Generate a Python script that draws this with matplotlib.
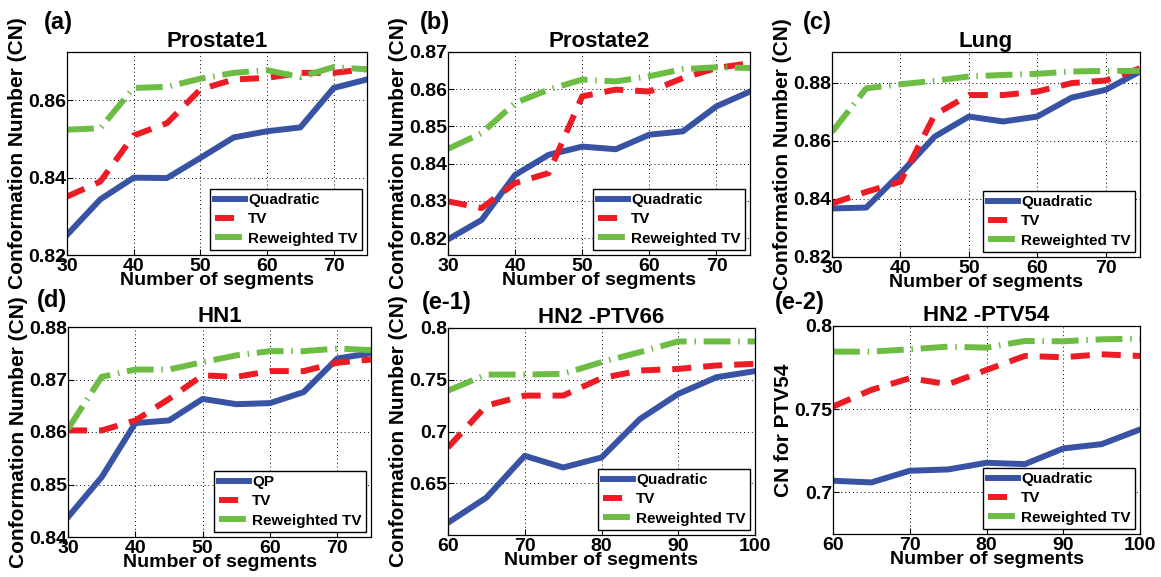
import matplotlib
matplotlib.use("Agg")
import matplotlib.pyplot as plt
from matplotlib.ticker import FuncFormatter

plt.rcParams['font.family'] = ['Liberation Sans', 'DejaVu Sans']
plt.rcParams['font.weight'] = 'bold'
plt.rcParams['axes.labelweight'] = 'bold'
plt.rcParams['axes.titleweight'] = 'bold'

# data
seg_a = [30, 35, 40, 45, 50, 55, 60, 65, 70, 75]
seg_e = [60, 65, 70, 75, 80, 85, 90, 95, 100]

pro1_quad = [0.8252, 0.8344, 0.8400, 0.8399, 0.8451, 0.8504, 0.8520, 0.8530, 0.8632, 0.8654]
pro1_tv = [0.8351, 0.8390, 0.8509, 0.8541, 0.8628, 0.8654, 0.8658, 0.8671, 0.8671, 0.8681]
pro1_rtv = [0.8524, 0.8528, 0.8632, 0.8635, 0.8656, 0.8671, 0.8678, 0.8660, 0.8686, 0.8680]

pro2_quad = [0.8197, 0.8249, 0.8370, 0.8424, 0.8446, 0.8439, 0.8478, 0.8487, 0.8554, 0.8594]
pro2_tv = [0.8299, 0.8281, 0.8348, 0.8375, 0.8581, 0.8599, 0.8594, 0.8630, 0.8657, 0.8670]
pro2_rtv = [0.8440, 0.8482, 0.8563, 0.8599, 0.8626, 0.8621, 0.8635, 0.8654, 0.8659, 0.8657]

lung_quad = [0.8367, 0.8370, 0.8487, 0.8614, 0.8683, 0.8666, 0.8683, 0.8748, 0.8775, 0.8838]
lung_tv = [0.8384, 0.8424, 0.8459, 0.8689, 0.8757, 0.8757, 0.8769, 0.8798, 0.8807, 0.8849]
lung_rtv = [0.8630, 0.8780, 0.8794, 0.8806, 0.8821, 0.8826, 0.8830, 0.8838, 0.8840, 0.8840]

hn1_quad = [0.8438, 0.8514, 0.8617, 0.8622, 0.8663, 0.8653, 0.8655, 0.8676, 0.8740, 0.8750]
hn1_tv = [0.8603, 0.8603, 0.8622, 0.8663, 0.8708, 0.8705, 0.8716, 0.8716, 0.8732, 0.8738]
hn1_rtv = [0.8606, 0.8705, 0.8719, 0.8719, 0.8733, 0.8746, 0.8754, 0.8754, 0.8759, 0.8756]

p66_quad = [0.6119, 0.6361, 0.6765, 0.6652, 0.6749, 0.7120, 0.7363, 0.7525, 0.7583]
p66_tv = [0.6846, 0.7250, 0.7347, 0.7347, 0.7515, 0.7589, 0.7605, 0.7638, 0.7654]
p66_rtv = [0.7395, 0.7550, 0.7550, 0.7557, 0.7670, 0.7767, 0.7870, 0.7870, 0.7870]

p54_quad = [0.7070, 0.7060, 0.7130, 0.7138, 0.7178, 0.7170, 0.7264, 0.7290, 0.7378]
p54_tv = [0.7516, 0.7616, 0.7686, 0.7650, 0.7736, 0.7820, 0.7812, 0.7830, 0.7820]
p54_rtv = [0.7846, 0.7846, 0.7860, 0.7876, 0.7870, 0.7910, 0.7908, 0.7920, 0.7924]

W, H = 1161, 577
fig = plt.figure(figsize=(W / 100, H / 100), dpi=100)

def box(l, r, t, b):
    return [l / W, 1 - b / H, (r - l) / W, (b - t) / H]

panels = [
    ("(a)", (44, 22), "Prostate1", box(67, 367, 52, 255), seg_a, pro1_quad, pro1_tv, pro1_rtv,
     (30, 75), range(30, 71, 10), (0.82, 0.8725), [0.82, 0.84, 0.86],
     "Conformation Number (CN)", "Quadratic"),
    ("(b)", (420, 22), "Prostate2", box(448, 750, 52, 255), seg_a, pro2_quad, pro2_tv, pro2_rtv,
     (30, 75), range(30, 71, 10), (0.8155, 0.87), [0.82, 0.83, 0.84, 0.85, 0.86, 0.87],
     "Conformation Number (CN)", "Quadratic"),
    ("(c)", (803, 22), "Lung", box(832, 1140, 52, 257), seg_a, lung_quad, lung_tv, lung_rtv,
     (30, 75), range(30, 71, 10), (0.82, 0.8905), [0.82, 0.84, 0.86, 0.88],
     "Conformation Number (CN)", "Quadratic"),
    ("(d)", (37, 300), "HN1", box(68, 371, 327, 537), seg_a, hn1_quad, hn1_tv, hn1_rtv,
     (30, 75), range(30, 71, 10), (0.84, 0.88), [0.84, 0.85, 0.86, 0.87, 0.88],
     "Conformation Number (CN)", "QP"),
    ("(e-1)", (422, 302), "HN2 -PTV66", box(448, 755, 328, 535), seg_e, p66_quad, p66_tv, p66_rtv,
     (60, 100), range(60, 101, 10), (0.6, 0.8), [0.65, 0.7, 0.75, 0.8],
     "Conformation Number (CN)", "Quadratic"),
    ("(e-2)", (775, 303), "HN2 -PTV54", box(833, 1140, 326, 534), seg_e, p54_quad, p54_tv, p54_rtv,
     (60, 100), range(60, 101, 10), (0.675, 0.8), [0.7, 0.75, 0.8],
     "CN for PTV54", "Quadratic"),
]

fmt = FuncFormatter(lambda v, p: ("%g" % round(v, 4)))

for tag, tagpos, title, pos, x, q, tv, rtv, xl, xt, yl, yt, ylab, qname in panels:
    ax = fig.add_axes(pos)
    ax.plot(x, q, color="#3953a4", lw=4.3, solid_joinstyle="round", label=qname)
    ax.plot(x, tv, color="#ed1c24", lw=4.3, linestyle=(0, (3.2, 2.0)), label="TV")
    ax.plot(x, rtv, color="#6dbd45", lw=4.3, linestyle=(0, (4.5, 1.3, 0.25, 1.3)),
            label="Reweighted TV")
    ax.set_xlim(*xl)
    ax.set_ylim(*yl)
    ax.set_xticks(list(xt))
    ax.set_yticks(yt)
    ax.yaxis.set_major_formatter(fmt)
    ax.tick_params(direction="in", labelsize=14, length=4, width=0.8)
    ax.tick_params(axis="y", pad=0.5)
    ax.tick_params(axis="x", pad=2)
    for lab in ax.get_xticklabels() + ax.get_yticklabels():
        lab.set_fontweight("bold")
    ax.grid(True, color="black", linestyle=(0, (1, 3)), linewidth=0.7)
    for s in ax.spines.values():
        s.set_linewidth(0.9)
    ax.set_title(title, fontsize=16, fontweight="bold", pad=2)
    ax.set_xlabel("Number of segments", fontsize=14, labelpad=-2)
    ax.set_ylabel(ylab, fontsize=15, labelpad=1)
    fig.text(tagpos[0] / W, 1 - tagpos[1] / H, tag, fontsize=17, fontweight="bold",
             ha="left", va="center")
    leg = ax.legend(loc="lower right", fontsize=11, handlelength=2.0, handletextpad=0.2,
                    borderpad=0.3, labelspacing=0.35, fancybox=False, framealpha=1,
                    borderaxespad=0.3)
    leg.get_frame().set_edgecolor("black")
    leg.get_frame().set_linewidth(1.0)
    for t in leg.get_texts():
        t.set_fontweight("bold")

fig.savefig("out.png", dpi=100)
